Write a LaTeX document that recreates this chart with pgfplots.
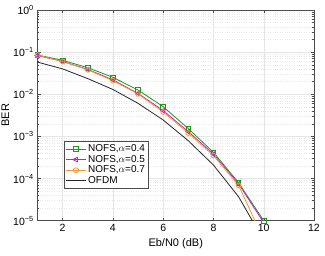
\documentclass[border=0pt]{standalone}
\usepackage{pgfplots}
\pgfplotsset{compat=1.18}
\usepackage{fontspec}
\setmainfont{Liberation Sans}
\definecolor{cgreen}{rgb}{0.1,0.6,0.1}
\definecolor{cmag}{rgb}{0.8,0.1,0.8}
\definecolor{corange}{rgb}{0.95,0.6,0.2}
\begin{document}
\fontsize{10.5}{12}\selectfont
\begin{tikzpicture}
\begin{axis}[
  scale only axis, width=276.5pt, height=210.7pt,
  ymode=log, xmin=1, xmax=12, ymin=1e-5, ymax=1,
  xtick={2,4,6,8,10,12},
  ytick={1e-5,1e-4,1e-3,1e-2,1e-1,1},
  yticklabels={10\textsuperscript{−5},10\textsuperscript{−4},10\textsuperscript{−3},10\textsuperscript{−2},10\textsuperscript{−1},10\textsuperscript{0}},
  /pgf/number format/assume math mode=true,
  tick align=inside, major tick length=3pt, minor tick length=1.5pt,
  tick style={black!70, line width=0.4pt},
  axis line style={black!70, line width=0.5pt},
  grid=both,
  major grid style={gray!20, line width=0.4pt},
  minor grid style={gray!18, dotted, line width=0.4pt},
  minor x tick num=0,
  xlabel={Eb/N0 (dB)}, ylabel={BER},
  xlabel style={yshift=0pt, font=\fontsize{11}{12}\selectfont},
  ylabel style={yshift=-3pt, font=\fontsize{11}{12}\selectfont},
  ticklabel style={font=\fontsize{10.5}{12}\selectfont},
  legend style={at={(0.096,0.378)}, anchor=north west, draw=black!70, line width=0.4pt,
    font=\fontsize{10}{11}\selectfont, row sep=-2pt, inner sep=1.5pt, cells={anchor=west}},
  legend cell align=left,
  legend image post style={xscale=1.15},
]
\addplot[cgreen, line width=0.8pt, mark=square, mark size=2.3pt, mark options={solid}] coordinates {
(1,0.0855)(2,0.064)(3,0.0428)(4,0.0252)(5,0.0126)(6,0.00508)(7,0.00153)(8,4.19e-4)(9,7.98e-5)(10,1.0e-5)};
\addlegendentry{NOFS,$\alpha$=0.4}
\addplot[cmag, line width=0.8pt, mark=triangle, mark size=2.6pt, mark options={solid, rotate=90}] coordinates {
(1,0.083)(2,0.060)(3,0.039)(4,0.022)(5,0.0105)(6,0.0041)(7,0.0013)(8,3.8e-4)(9,7.5e-5)(10,9.0e-6)};
\addlegendentry{NOFS,$\alpha$=0.5}
\addplot[corange, line width=0.8pt, mark=o, mark size=2.4pt, mark options={solid}] coordinates {
(1,0.085)(2,0.060)(3,0.038)(4,0.021)(5,0.0102)(6,0.0038)(7,0.0012)(8,3.5e-4)(9,6.9e-5)(10,3.5e-6)};
\addlegendentry{NOFS,$\alpha$=0.7}
\addplot[black!85, line width=0.8pt] coordinates {
(1,0.058)(2,0.040)(3,0.0235)(4,0.013)(5,0.0061)(6,0.00245)(7,7.9e-4)(8,2.09e-4)(9,3.7e-5)(10,3.4e-6)};
\addlegendentry{OFDM}
\end{axis}
\pgfresetboundingbox
\path[use as bounding box] (-37.5pt,-35.3pt) rectangle (287.5pt,220.7pt);
\end{tikzpicture}
\end{document}
